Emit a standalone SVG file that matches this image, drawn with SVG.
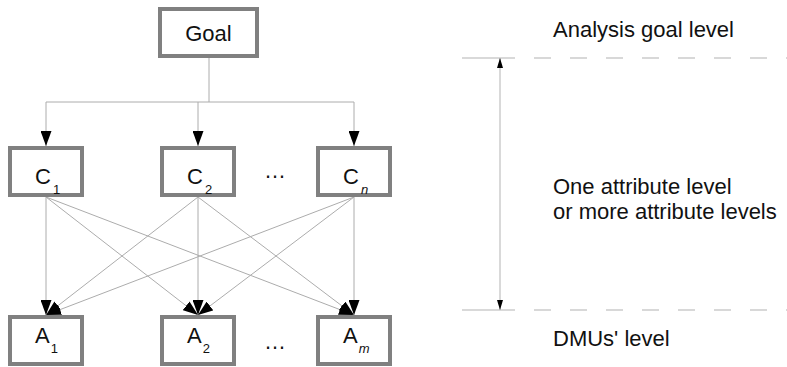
<svg xmlns="http://www.w3.org/2000/svg" width="787" height="367" viewBox="0 0 787 367">
  <style>
    .box { fill: #ffffff; stroke: #808080; stroke-width: 4; }
    .lbl { font-family: "Liberation Sans", Arial, sans-serif; font-size: 22px; fill: #111111; }
    .sub { font-size: 13px; }
    .it { font-style: italic; }
    .link { fill: none; stroke: #acacac; stroke-width: 1; }
    .guide { fill: none; stroke: #cccccc; stroke-width: 1.5; }
    .dash { fill: none; stroke: #cccccc; stroke-width: 1.5; stroke-dasharray: 17 19; }
  </style>
  <defs>
    <!-- filled arrowhead for the hierarchy links -->
    <marker id="tip" markerUnits="userSpaceOnUse" viewBox="0 0 15 11" refX="15" refY="5.5" markerWidth="15" markerHeight="11" orient="auto">
      <path d="M0,0 L15,5.5 L0,11 Z" fill="#000000"/>
    </marker>
    <!-- slim arrowhead for the level scale -->
    <marker id="small" markerUnits="userSpaceOnUse" viewBox="0 0 10 6" refX="10" refY="3" markerWidth="10" markerHeight="6" orient="auto-start-reverse">
      <path d="M0,0 L10,3 L0,6 Z" fill="#000000"/>
    </marker>
  </defs>

  <!-- connectors -->
  <g id="connectors">
    <!-- goal to criteria bus -->
    <path class="link" d="M209,58 V102"/>
    <path class="link" d="M46,102 H354"/>
    <path class="link" d="M46,102 V146" marker-end="url(#tip)"/>
    <path class="link" d="M198,102 V146" marker-end="url(#tip)"/>
    <path class="link" d="M354,102 V146" marker-end="url(#tip)"/>
    <!-- criteria to alternatives -->
    <path class="link" d="M46,197 L46,315" marker-end="url(#tip)"/>
    <path class="link" d="M46,197 L198,315" marker-end="url(#tip)"/>
    <path class="link" d="M46,197 L354,315" marker-end="url(#tip)"/>
    <path class="link" d="M198,197 L46,315" marker-end="url(#tip)"/>
    <path class="link" d="M198,197 L198,315" marker-end="url(#tip)"/>
    <path class="link" d="M198,197 L354,315" marker-end="url(#tip)"/>
    <path class="link" d="M354,197 L46,315" marker-end="url(#tip)"/>
    <path class="link" d="M354,197 L198,315" marker-end="url(#tip)"/>
    <path class="link" d="M354,197 L354,315" marker-end="url(#tip)"/>
  </g>

  <!-- nodes -->
  <g id="goal">
    <rect class="box" x="160" y="9" width="97" height="47"/>
    <text class="lbl" x="208.5" y="41" text-anchor="middle">Goal</text>
  </g>
  <g id="c1">
    <rect class="box" x="10" y="148" width="72" height="47"/>
    <text class="lbl" x="35" y="184">C<tspan class="sub" dx="2" dy="10">1</tspan></text>
  </g>
  <g id="c2">
    <rect class="box" x="162" y="148" width="72" height="47"/>
    <text class="lbl" x="187" y="184">C<tspan class="sub" dx="2" dy="10">2</tspan></text>
  </g>
  <g id="cn">
    <rect class="box" x="318" y="148" width="72" height="47"/>
    <text class="lbl" x="343" y="184">C<tspan class="sub it" dx="2" dy="10">n</tspan></text>
  </g>
  <g id="a1">
    <rect class="box" x="10" y="317" width="72" height="47"/>
    <text class="lbl" x="35" y="343">A<tspan class="sub" dx="1" dy="10">1</tspan></text>
  </g>
  <g id="a2">
    <rect class="box" x="162" y="317" width="72" height="47"/>
    <text class="lbl" x="187" y="343">A<tspan class="sub" dx="1" dy="10">2</tspan></text>
  </g>
  <g id="am">
    <rect class="box" x="318" y="317" width="72" height="47"/>
    <text class="lbl" x="343" y="343">A<tspan class="sub it" dx="1" dy="10">m</tspan></text>
  </g>

  <!-- ellipses between columns -->
  <text class="lbl" x="264" y="178">…</text>
  <text class="lbl" x="264" y="349">…</text>

  <!-- level scale -->
  <g id="scale">
    <path class="guide" d="M462,58 H515"/>
    <path class="dash" d="M534,58 H787"/>
    <path class="guide" d="M462,310 H515"/>
    <path class="dash" d="M534,310 H787"/>
    <path class="guide" d="M500,58 V310" marker-start="url(#small)" marker-end="url(#small)"/>
  </g>

  <text class="lbl" x="553" y="37">Analysis goal level</text>
  <text class="lbl" x="553" y="194">One attribute level</text>
  <text class="lbl" x="553" y="219">or more attribute levels</text>
  <text class="lbl" x="553" y="346">DMUs' level</text>
</svg>
